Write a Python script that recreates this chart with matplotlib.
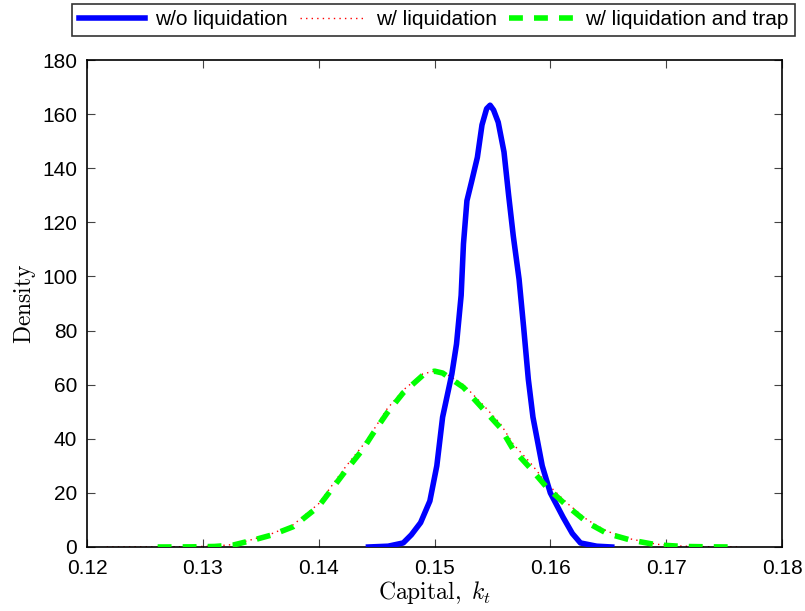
import numpy as np
import matplotlib.pyplot as plt

plt.rcParams["font.family"] = ["Liberation Sans", "DejaVu Sans"]
plt.rcParams["mathtext.fontset"] = "cm"

# w/o liquidation
k_blue = [0.1443, 0.1460, 0.1473, 0.1480, 0.1488, 0.1496, 0.1502, 0.1507, 0.1515, 0.1519, 0.1523,
          0.1525, 0.1528, 0.1532, 0.1537, 0.1541, 0.1545, 0.1548, 0.1551, 0.1555, 0.1560, 0.1564, 0.1568,
          0.1573, 0.1577, 0.1581, 0.1585, 0.1593, 0.1600, 0.1611, 0.1619, 0.1626, 0.1640, 0.1653]
d_blue = [0, 0.3, 1.5, 4.5, 9, 17, 30, 48, 64, 75, 93,
          112, 128, 135, 144, 156, 162, 163.3, 161.5, 157, 146, 130, 115,
          99, 81, 62, 48, 30, 20, 11, 5, 1.5, 0.3, 0]

# w/ liquidation
k_red = [0.1217, 0.1260, 0.1290, 0.1310, 0.1326, 0.1343, 0.1360, 0.1378, 0.1400, 0.1423,
         0.1438, 0.1447, 0.1459, 0.1473, 0.1490, 0.1500, 0.1507, 0.1525, 0.1542, 0.1557,
         0.1568, 0.1583, 0.1597, 0.1615, 0.1632, 0.1649, 0.1669, 0.1692, 0.1715, 0.1740, 0.1765]
d_red = [0, 0.03, 0.1, 0.35, 0.9, 2.8, 5, 8.2, 16, 29.5,
         37.5, 43, 51, 58, 64, 65, 64.8, 60, 52.5, 45.5,
         38, 31, 23.5, 16, 10, 5.8, 3, 1, 0.3, 0.08, 0]

# w/ liquidation and trap
k_green = [0.1261, 0.1290, 0.1310, 0.1326, 0.1343, 0.1360, 0.1378, 0.1400, 0.1423, 0.1438,
           0.1447, 0.1459, 0.1473, 0.1490, 0.1500, 0.1507, 0.1525, 0.1542, 0.1557, 0.1568,
           0.1583, 0.1597, 0.1615, 0.1632, 0.1649, 0.1669, 0.1692, 0.1715, 0.1740, 0.1762]
d_green = [0, 0.05, 0.2, 0.7, 2.5, 4.5, 7.5, 15, 28, 36,
           42, 49.5, 57, 63.5, 65, 64.3, 59, 51, 44, 36,
           29, 22, 15, 9, 5, 2.6, 0.8, 0.2, 0.05, 0]

xticks = [0.12, 0.13, 0.14, 0.15, 0.16, 0.17, 0.18]
yticks = [0, 20, 40, 60, 80, 100, 120, 140, 160, 180]

fig = plt.figure(figsize=(8.05, 6.11), dpi=100)
ax = fig.add_axes([87 / 805, 1 - 547 / 611, 695 / 805, 487 / 611])

ax.plot(k_blue, d_blue, color="#0000ff", lw=4, label="w/o liquidation", zorder=3,
        solid_joinstyle="round")
ax.plot(k_red, d_red, color="#ff0000", lw=1, ls=(0, (1, 3)), label="w/ liquidation", zorder=2)
ax.plot(k_green, d_green, color="#00ff00", lw=4, ls=(0, (2.5, 2)), label="w/ liquidation and trap", zorder=4)

ax.set_xlim(0.12, 0.18)
ax.set_ylim(0, 180)
ax.set_xticks(xticks)
ax.set_xticklabels(["%.2f" % t for t in xticks])
ax.set_yticks(yticks)
ax.tick_params(direction="in", top=True, right=True, length=6, width=0.8,
               labelsize=15, color="#444444")
ax.tick_params(axis="x", pad=9)
ax.tick_params(axis="y", pad=7)
for s in ax.spines.values():
    s.set_linewidth(1.2)

ax.set_xlabel(r"$\mathrm{Capital,}\ k_t$", fontsize=17, labelpad=0)
ax.set_ylabel(r"$\mathrm{Density}$", fontsize=17, labelpad=3)

leg = fig.legend(loc="upper right", bbox_to_anchor=(795 / 805, 1 - 4 / 611), ncol=3,
                 fontsize=15, frameon=True, fancybox=False, edgecolor="black",
                 handlelength=3.2, handletextpad=0.45, columnspacing=0.6,
                 borderpad=0.3, borderaxespad=0)
leg.get_frame().set_linewidth(1.2)

fig.savefig("out.png", dpi=100)
